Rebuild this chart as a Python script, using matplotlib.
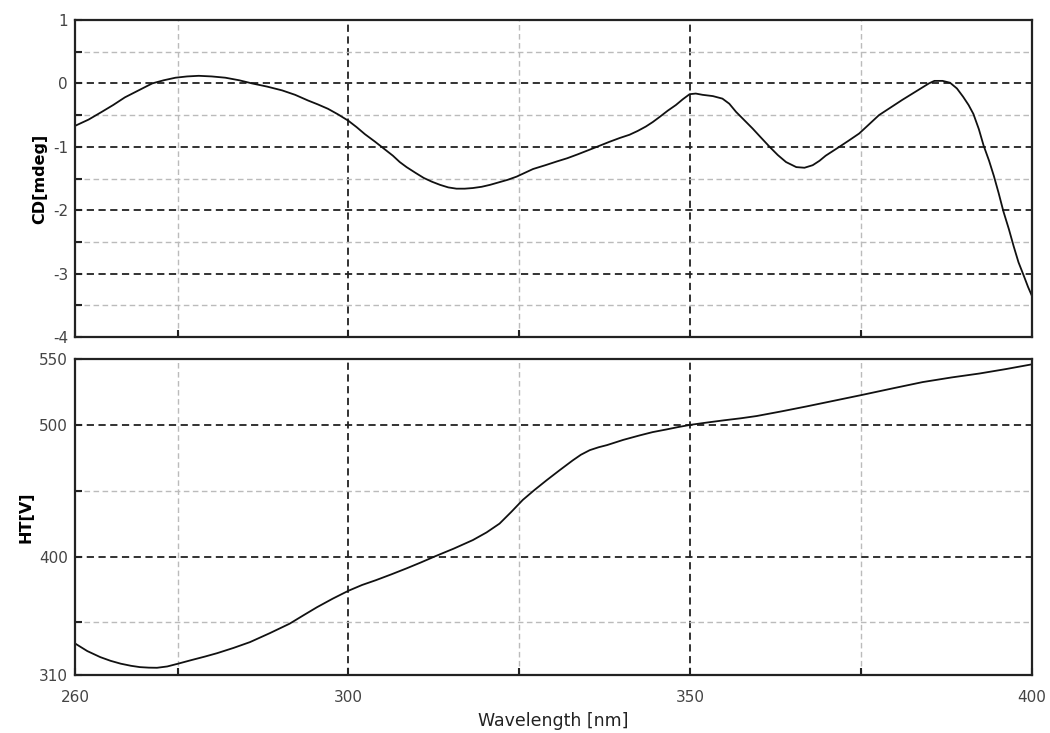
import matplotlib
matplotlib.use("Agg")
import matplotlib.pyplot as plt

plt.rcParams['font.family'] = ['DejaVu Sans']
plt.rcParams['axes.unicode_minus'] = False

# CD spectrum
cd_nm = [260.0, 262.0, 263.9, 265.6, 267.3, 269.3, 271.3, 273.0, 274.7, 276.4,
         278.1, 280.0, 282.0, 284.0, 285.9, 288.1, 290.3, 292.2, 294.1, 295.5,
         297.0, 298.5, 300.0, 301.2, 302.4, 303.9, 305.2, 306.5, 307.5, 308.5,
         309.8, 311.0, 312.2, 313.4, 314.6, 315.8, 317.0, 318.2, 319.5, 320.7,
         322.0, 323.3, 324.6, 325.8, 327.0, 328.8, 330.5, 332.0, 333.5, 335.4,
         336.8, 338.2, 339.7, 341.1, 342.3, 343.5, 344.5, 345.5, 346.7, 347.9,
         348.9, 349.9, 350.8, 351.8, 353.3, 354.7, 355.7, 356.7, 357.9, 359.1,
         360.3, 361.6, 362.8, 364.0, 365.5, 366.7, 367.9, 368.9, 369.8, 370.8,
         371.8, 373.2, 374.7, 376.1, 377.6, 379.3, 381.0, 382.5, 384.0, 384.9,
         385.7, 386.9, 388.0, 389.0, 389.9, 390.7, 391.4, 392.2, 392.9, 393.7,
         394.4, 395.1, 395.8, 396.6, 397.3, 398.0, 398.8, 399.4, 400.0]
cd_mdeg = [-0.67, -0.57, -0.45, -0.34, -0.22, -0.11, 0.00, 0.05, 0.09, 0.11,
           0.12, 0.11, 0.09, 0.05, 0.00, -0.05, -0.11, -0.18, -0.27, -0.33,
           -0.40, -0.49, -0.59, -0.69, -0.80, -0.92, -1.03, -1.14, -1.24, -1.32,
           -1.41, -1.49, -1.55, -1.60, -1.64, -1.66, -1.66, -1.65, -1.63, -1.60,
           -1.56, -1.52, -1.47, -1.41, -1.35, -1.29, -1.23, -1.18, -1.12, -1.04,
           -0.98, -0.92, -0.86, -0.81, -0.75, -0.68, -0.61, -0.53, -0.43, -0.34,
           -0.25, -0.17, -0.16, -0.18, -0.20, -0.24, -0.32, -0.45, -0.58, -0.71,
           -0.85, -1.00, -1.13, -1.24, -1.32, -1.33, -1.29, -1.22, -1.14, -1.07,
           -1.00, -0.90, -0.79, -0.65, -0.50, -0.38, -0.26, -0.16, -0.06, 0.00,
           0.04, 0.04, 0.01, -0.08, -0.21, -0.34, -0.48, -0.72, -0.98, -1.22,
           -1.46, -1.73, -2.02, -2.30, -2.57, -2.82, -3.04, -3.21, -3.36]

# HT voltage
ht_nm = [260.0, 261.8, 263.7, 265.2, 266.7, 268.2, 269.5, 270.8, 272.0, 273.5,
         275.0, 277.0, 279.0, 280.8, 283.2, 285.6, 288.5, 291.4, 293.4, 295.4,
         297.7, 300.0, 302.0, 304.0, 306.3, 308.5, 310.6, 312.6, 315.4, 318.2,
         320.2, 322.1, 323.8, 325.5, 327.2, 329.0, 330.9, 332.8, 334.0, 335.3,
         336.6, 337.8, 340.2, 342.6, 344.5, 346.5, 348.2, 350.0, 352.5, 355.0,
         357.4, 359.7, 363.4, 367.0, 371.0, 375.0, 379.5, 384.0, 388.2, 392.3,
         396.2, 400.0]
ht_volt = [334.0, 328.2, 323.6, 320.8, 318.6, 317.0, 316.0, 315.6, 315.5, 316.5,
           318.5, 321.3, 324.0, 326.6, 330.6, 335.0, 341.8, 349.0, 355.3, 361.5,
           368.0, 374.0, 378.4, 382.0, 386.5, 391.0, 395.5, 400.0, 406.0, 412.5,
           418.3, 425.0, 433.8, 443.0, 450.5, 458.0, 465.6, 473.0, 477.3, 480.8,
           483.0, 484.6, 488.6, 492.0, 494.5, 496.5, 498.3, 500.0, 501.8, 503.5,
           505.0, 506.7, 510.3, 514.0, 518.3, 522.6, 527.6, 532.5, 536.0, 539.0,
           542.4, 546.0]

fig = plt.figure(figsize=(10.5, 7.33), dpi=100)
ax1 = fig.add_axes([0.0714, 0.5402, 0.9116, 0.4325])
ax2 = fig.add_axes([0.0714, 0.0791, 0.9116, 0.4311])

major_grid = dict(color='#222222', linestyle=(0, (4, 2.5)), linewidth=1.3)
minor_grid = dict(color='#bbbbbb', linestyle=(0, (4, 2.5)), linewidth=1.0)

for ax in (ax1, ax2):
    ax.set_xlim(260, 400)
    ax.set_xticks([260, 300, 350, 400])
    ax.set_xticks([275, 325, 375], minor=True)
    ax.grid(True, which='major', **major_grid)
    ax.grid(True, which='minor', **minor_grid)
    ax.tick_params(which='both', direction='in', color='#222222', width=1.5,
                   length=5, labelsize=11, labelcolor='#444444')
    ax.tick_params(axis='y', pad=5)
    ax.tick_params(axis='x', pad=11)
    for s in ax.spines.values():
        s.set_linewidth(1.6)
        s.set_color('#222222')
    ax.set_axisbelow(True)

ax1.plot(cd_nm, cd_mdeg, color='#111111', linewidth=1.3)
ax1.set_ylim(-4, 1)
ax1.set_yticks([-4, -3, -2, -1, 0, 1])
ax1.set_yticks([-3.5, -2.5, -1.5, -0.5, 0.5], minor=True)
ax1.tick_params(axis='x', labelbottom=False)
ax1.set_ylabel('CD[mdeg]', fontsize=11.5, fontweight='bold', labelpad=4)

ax2.plot(ht_nm, ht_volt, color='#111111', linewidth=1.3)
ax2.set_ylim(310, 550)
ax2.set_yticks([310, 400, 500, 550])
ax2.set_yticks([350, 450], minor=True)
ax2.set_ylabel('HT[V]', fontsize=11.5, fontweight='bold', labelpad=4)
ax2.set_xlabel('Wavelength [nm]', fontsize=12.5, color='#222222', labelpad=5)

# the outermost major gridlines coincide with the frame; hide them
for ax in (ax1, ax2):
    for gl in ax.get_xgridlines():
        if gl.get_xdata()[0] in (260, 400):
            gl.set_visible(False)
for gl, v in zip(ax1.get_ygridlines(), [-4, -3, -2, -1, 0, 1]):
    if v in (-4, 1):
        gl.set_visible(False)
for gl, v in zip(ax2.get_ygridlines(), [310, 400, 500, 550]):
    if v in (310, 550):
        gl.set_visible(False)

fig.savefig('out.png', dpi=100)
